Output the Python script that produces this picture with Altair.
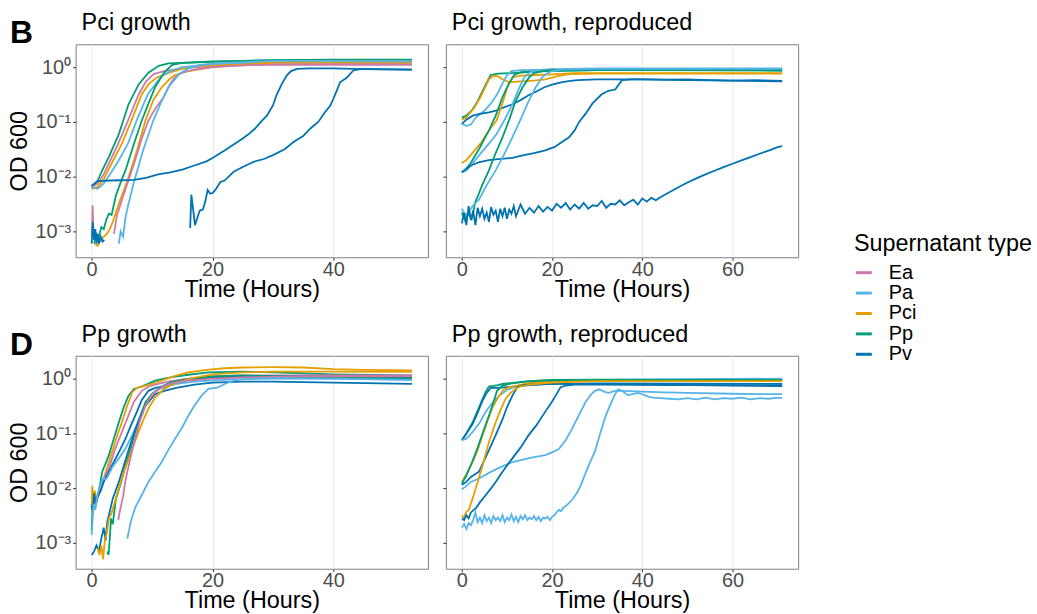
import altair as alt
import pandas as pd

FONT = "Liberation Sans"
TYPES = ["Ea", "Pa", "Pci", "Pp", "Pv"]
COLORS = ["#CC79A7", "#56B4E9", "#E69F00", "#009E73", "#0072B2"]
Y_TICKS = [0.001, 0.01, 0.1, 1]
PANEL_TITLES = ["Pci growth", "Pci growth, reproduced", "Pp growth", "Pp growth, reproduced"]
PANEL_LETTERS = ["B", "", "D", ""]

# ---- Panel 1: Pci growth ----
P1 = [
    ("Pp", [0,1,1.75,2.85,4.5,6.1,7.8,9.4,11.1,12.7,15,20,30,40,53],
           [0.0065,0.0085,0.013,0.023,0.06,0.21,0.49,0.79,1.06,1.17,1.2,1.25,1.35,1.37,1.37]),
    ("Ea", [0,1,2,3,4.4,6,7.8,9,10.25,12,15,20,30,53],
           [0.0065,0.0075,0.011,0.019,0.04,0.105,0.32,0.55,0.75,0.85,0.95,1.05,1.12,1.12]),
    ("Pci", [0,1,2,3,5,6.5,8.3,9.5,10.8,13,16,20,30,53],
            [0.006,0.0065,0.009,0.015,0.04,0.1,0.32,0.5,0.65,0.8,1.0,1.1,1.2,1.2]),
    ("Pa", [0,1,2,3,4.5,6,7.5,9.3,11.6,13.3,15,20,30,53],
           [0.0065,0.006,0.0075,0.011,0.02,0.04,0.11,0.32,0.7,0.87,1.0,1.15,1.25,1.25]),
    ("Pp", [0.4,0.8,1.2,1.6,2,2.4,2.85,3.3,4,5,5.6,7,8.3,9.5,10.5,12,13.3,15,20,30,53],
           [0.0006,0.0009,0.0008,0.0012,0.0011,0.0016,0.0021,0.002,0.0045,0.009,0.013,0.04,0.106,0.23,0.43,0.8,1.1,1.2,1.28,1.33,1.33]),
    ("Pci", [0.5,1,1.5,2,2.5,3,3.5,4,4.5,5,6,7.5,8.9,10.2,11.6,13,13.8,16,20,25,30,53],
            [0.0006,0.00055,0.0007,0.0008,0.0009,0.0011,0.0015,0.0022,0.0032,0.0045,0.009,0.03,0.106,0.25,0.43,0.62,0.72,0.85,1.0,1.1,1.25,1.27]),
    ("Ea", [0.05,0.15,0.25], [0.0009,0.003,0.0015]),
    ("Ea", [3.7,4.2,5,6,7.2,8.3,9.4,10.6,11.9,13,13.8,15,17,20,25,30,53],
           [0.0009,0.002,0.0037,0.008,0.02,0.05,0.106,0.18,0.28,0.5,0.66,0.8,0.9,1.0,1.08,1.12,1.12]),
    ("Pa", [4.5,4.8,5.2,5.6,6.1,7,8.5,10.2,11.5,12.7,14.5,16,18,22,30,53],
           [0.0006,0.001,0.0008,0.0018,0.0032,0.008,0.03,0.106,0.23,0.43,0.75,0.95,1.1,1.2,1.3,1.3]),
    ("Pv", [0,0.5,1,3,5,7,9,11,13,15,17,19,20,22,24,25,26,27,28,29,30,30.6,31.5,32.3,33,34,36,40,45,53],
           [0.0068,0.0075,0.0083,0.0085,0.0086,0.0087,0.0095,0.011,0.012,0.0135,0.016,0.019,0.022,0.03,0.042,
            0.05,0.06,0.075,0.1,0.13,0.2,0.31,0.5,0.71,0.85,0.93,0.95,0.95,0.92,0.9]),
    ("Pv", [16.3,16.5,16.8,17.1,17.5,17.9,18.4,18.8,19.2,19.6,20,20.5,21.3,22,23.5,25,26.8,28.5,30.1,32,
            33.4,35,36.2,37.5,38.6,39.5,40,40.6,41.1,42.2,43.3,44.5,46,53],
           [0.00115,0.0047,0.0025,0.0013,0.0018,0.0024,0.0025,0.0035,0.0057,0.0049,0.005,0.0058,0.008,0.0085,0.0123,
            0.015,0.0187,0.021,0.025,0.032,0.043,0.055,0.076,0.1,0.15,0.2,0.265,0.38,0.53,0.64,0.87,0.92,0.92,0.9]),
    ("Pv", [0,0.2,0.4,0.6,0.8,1.0,1.2,1.5,1.8,2.1],
           [0.0006,0.0015,0.0007,0.0011,0.0006,0.0009,0.0006,0.0008,0.00065,0.0007]),
]

# ---- Panel 2: Pci growth, reproduced ----
P2 = [
    ("Pp", [0,1,2.4,3.5,4.6,5.5,6.4,8,11,15,20,30,50,71],
           [0.12,0.13,0.17,0.24,0.37,0.52,0.72,0.76,0.78,0.82,0.86,0.88,0.88,0.87]),
    ("Pci", [0,1,2.7,4,5,6,7,8,9,10.5,13,16,18.5,21,23.7,30,50,71],
            [0.11,0.12,0.18,0.27,0.4,0.6,0.7,0.68,0.6,0.53,0.55,0.57,0.6,0.68,0.75,0.76,0.76,0.76]),
    ("Pa", [0,1,2,3.1,5,6.5,7.8,9,10.1,11,13,20,30,71],
           [0.092,0.085,0.09,0.12,0.16,0.22,0.32,0.5,0.73,0.85,0.88,0.9,0.92,0.92]),
    ("Pv", [0,1,2.4,4,6,7.5,9,11.2,13,14.6,16.5,18.3,20,22,24,25.7,30,40,50,60,71],
           [0.092,0.11,0.13,0.14,0.15,0.16,0.18,0.21,0.25,0.3,0.36,0.43,0.48,0.53,0.56,0.58,0.6,0.6,0.58,0.57,0.55]),
    ("Pci", [0,1,2,4.1,6,7.7,9,10.1,11.2,13,16,20,25,30,71],
            [0.0178,0.02,0.025,0.04,0.07,0.106,0.22,0.43,0.65,0.7,0.72,0.74,0.78,0.78,0.78]),
    ("Pp", [0,1,2,3.9,6,7.5,9,10.3,11.6,13,16,20,30,71],
           [0.012,0.014,0.018,0.033,0.07,0.13,0.28,0.48,0.72,0.8,0.84,0.86,0.88,0.87]),
    ("Pa", [0,1,2,3.9,6,7.7,9.5,11.2,12.5,13.8,15,17,20,30,71],
           [0.012,0.013,0.016,0.025,0.04,0.06,0.11,0.21,0.38,0.65,0.8,0.88,0.92,0.95,0.95]),
    ("Pv", [0,1,2,3.9,6,8,11.2,14,16,18.3,20.6,22,23.7,25,26,27.4,29,31,32.5,34,34.5,35.5,37.7,40,45,50,55,60,65,71],
           [0.012,0.014,0.016,0.0185,0.02,0.021,0.022,0.025,0.027,0.03,0.035,0.042,0.052,0.07,0.1,
            0.14,0.22,0.32,0.37,0.39,0.45,0.58,0.6,0.6,0.59,0.6,0.58,0.57,0.58,0.56]),
    ("Pp", [0,0.7,1.4,2.2,3,3.5,4.5,6,7.5,9,10.5,11.9,13.4,14.9,16,18,20,30,71],
           [0.0022,0.0016,0.0021,0.0017,0.0035,0.0043,0.007,0.013,0.027,0.052,0.11,0.24,0.42,0.65,0.78,0.85,0.88,0.9,0.9]),
    ("Pa", [0,0.7,1.4,2.5,3.8,5.5,7.5,9.5,11.2,13,14.8,16.3,17.8,19,20,22,30,71],
           [0.0026,0.002,0.0022,0.003,0.0038,0.007,0.013,0.027,0.052,0.11,0.24,0.42,0.65,0.78,0.85,0.9,0.93,0.93]),
    ("Pv", [0,0.5,1,1.5,2,2.5,3,3.5,4,4.5,
            5,5.5,6,6.5,7,7.5,8,8.5,9,9.5,
            10,10.5,11,11.5,12,13,14,15,16,17,
            18,19,20,21,22,23,24,25,26,27,
            28,29,30,31,32,33,34,35,36,37,
            38,39,40,41,42,43,44,46,48,50,
            52,54,56,58,60,62,64,66,68,70,
            71],
           [0.0014,0.0022,0.0013,0.0029,0.0016,0.0024,0.0013,0.0027,0.0019,0.0026,
            0.0017,0.0022,0.0015,0.0028,0.0020,0.0024,0.0015,0.0026,0.0019,0.0027,
            0.0017,0.0025,0.0021,0.0029,0.0019,0.0031,0.0021,0.0027,0.0022,0.0029,
            0.0023,0.0028,0.0024,0.0032,0.0027,0.0033,0.0025,0.0031,0.0026,0.0033,
            0.0026,0.0030,0.0029,0.0036,0.0027,0.0032,0.0031,0.0037,0.0030,0.0034,
            0.0038,0.0031,0.0040,0.0035,0.0041,0.0037,0.0042,0.0052,0.0064,0.0078,
            0.0093,0.011,0.0128,0.0149,0.0172,0.0198,0.0228,0.0262,0.030,0.0345,
            0.036]),
]

# ---- Panel 3: Pp growth ----
P3 = [
    ("Pp", [0,0.15,0.3,0.6,1,1.4,1.75,2.3,2.85,3.5,4.5,5.3,6.1,7,8.3,9.5,10.5,12,13.3,16,19.3,25,30,40,53],
           [0.0017,0.0045,0.006,0.0055,0.007,0.012,0.02,0.028,0.04,0.07,0.16,0.3,0.49,0.65,0.72,
            0.82,0.92,1.0,1.07,1.18,1.3,1.35,1.3,1.2,1.15]),
    ("Pci", [0,0.1,0.3,0.5,0.8,1.2,1.6,2,2.85,3.5,4.2,5,5.8,6.7,7.5,8.5,10,11.1,12.5,13.8,16,19,22,25,30,35,40,45,53],
            [0.004,0.011,0.005,0.009,0.006,0.0075,0.01,0.015,0.03,0.05,0.09,0.16,0.3,0.56,0.68,
             0.72,0.8,0.88,1.0,1.12,1.3,1.45,1.55,1.6,1.62,1.6,1.5,1.45,1.42]),
    ("Ea", [0.2,0.6,1,1.5,2,2.85,3.8,5,6,7,8.3,9.5,11,13,16,20,25,30,40,53],
           [0.005,0.007,0.007,0.01,0.015,0.023,0.048,0.106,0.2,0.38,0.6,0.72,0.8,0.9,1.0,1.1,1.15,1.15,1.15,1.15]),
    ("Pv", [0,0.2,0.4,0.7,1,1.5,2,2.85,3.8,4.7,5.6,6.5,7.5,8.3,9.4,10.5,12,13.8,16,20,25,30,40,53],
           [0.005,0.0035,0.008,0.005,0.007,0.009,0.013,0.02,0.032,0.05,0.08,0.14,0.25,0.41,0.6,
            0.68,0.72,0.8,0.95,1.05,1.1,1.1,1.08,1.05]),
    ("Pa", [0,0.3,0.6,1,1.75,2.5,3.5,4.5,5.6,7,8.3,9.9,11,12.5,14,17,20,25,30,40,53],
           [0.0014,0.005,0.004,0.008,0.0145,0.015,0.025,0.035,0.053,0.11,0.24,0.52,0.64,0.72,0.8,
            0.88,0.93,0.98,1.0,1.0,0.95]),
    ("Pp", [2.6,2.8,3.0,3.2,3.5,4,4.8,5.6,6.4,7.2,8,8.9,10,11.6,13,15,18,20,25,30,40,53],
           [0.0007,0.0006,0.0012,0.0028,0.0022,0.0063,0.012,0.026,0.05,0.106,0.2,0.37,0.52,0.72,0.85,
            0.95,1.05,1.1,1.15,1.1,1.05,1.0]),
    ("Pv", [0,0.4,0.8,1.2,1.6,2,2.3,2.6,2.85,3.5,4.5,5.5,6.7,7.8,8.9,10.5,12,14,17,20,25,30,40,53],
           [0.0006,0.0007,0.0009,0.0007,0.0012,0.0019,0.0011,0.0025,0.0032,0.0065,0.013,0.03,0.08,0.17,0.32,
            0.52,0.6,0.68,0.78,0.85,0.88,0.88,0.85,0.8]),
    ("Pci", [1.0,1.3,1.6,1.9,2.2,2.5,2.85,3.3,4,4.5,5.5,6.5,7.5,8.5,9.5,10.5,12,14,17,20,25,30,40,53],
            [0.0008,0.0006,0.0009,0.0005,0.0012,0.0015,0.0028,0.0035,0.0065,0.01,0.022,0.045,0.09,0.17,0.3,
             0.45,0.65,0.85,1.05,1.2,1.3,1.35,1.35,1.33]),
    ("Ea", [4.4,4.6,4.9,5.2,5.6,6.4,7.2,8,8.9,10,11.6,13,15,20,25,30,40,53],
           [0.0026,0.0035,0.005,0.007,0.014,0.035,0.08,0.17,0.32,0.52,0.7,0.8,0.9,1.0,1.05,1.08,1.1,1.1]),
    ("Pa", [5.9,6.5,7.2,8.3,9.4,10.5,11.6,12.7,13.8,15,16,17,18.2,19.3,20.9,22,23.6,26,30,40,53],
           [0.0012,0.0025,0.0044,0.0075,0.013,0.02,0.03,0.05,0.08,0.13,0.21,0.32,0.49,0.65,0.69,
            0.8,0.93,1.0,1.02,1.0,0.95]),
]

# ---- Panel 4: Pp growth, reproduced ----
P4 = [
    ("Pp", [0,1,2.4,3.5,4.6,5.3,6,7,8,9,11,15,20,30,71],
           [0.075,0.1,0.16,0.26,0.43,0.58,0.72,0.74,0.76,0.8,0.83,0.9,0.95,0.96,0.95]),
    ("Pv", [0,1,2.4,3.5,4.6,5.5,6.4,8,10,12,15,20,30,50,71],
           [0.075,0.1,0.15,0.24,0.4,0.55,0.68,0.68,0.7,0.72,0.76,0.8,0.8,0.76,0.73]),
    ("Pa", [0,1,2.4,4,5.3,6.5,8.2,10,12,15,20,30,50,71],
           [0.075,0.08,0.106,0.16,0.25,0.34,0.48,0.62,0.72,0.82,0.9,0.95,0.98,1.0]),
    ("Pci", [0,1,2.4,3.5,4.6,5.7,6.8,8.2,9.2,10.5,12,14,16,20,30,71],
            [0.013,0.018,0.03,0.05,0.093,0.17,0.3,0.48,0.62,0.7,0.74,0.8,0.85,0.9,0.93,0.93]),
    ("Pp", [0,1,2.4,3.5,4.6,5.7,6.8,7.8,9,11,14,18,25,71],
           [0.012,0.017,0.032,0.055,0.1,0.18,0.33,0.6,0.75,0.82,0.88,0.92,0.95,0.95]),
    ("Pv", [0,1,2,3.8,5.5,7.5,9,10,11.2,12.3,13.5,15,20,30,71],
           [0.0115,0.013,0.016,0.02,0.04,0.093,0.18,0.3,0.49,0.7,0.76,0.78,0.8,0.82,0.8]),
    ("Pa", [0,1,2,3.8,6,8,11.2,14,16,18.5,20,21.5,23,24.4,26,27.4,28.5,29.5,30.5,31.5,32.5,34,36,40,45,50,60,71],
           [0.0095,0.011,0.013,0.015,0.019,0.023,0.03,0.034,0.037,0.04,0.045,0.052,0.075,0.12,0.22,
            0.37,0.5,0.6,0.64,0.58,0.55,0.6,0.6,0.58,0.56,0.55,0.53,0.52]),
    ("Pci", [0,0.5,0.9,1.5,2.4,3.5,4.6,6,7.5,8.5,9.7,10.8,11.9,13,15,20,30,71],
            [0.0032,0.0028,0.0036,0.004,0.0065,0.013,0.026,0.07,0.16,0.26,0.43,0.55,0.65,0.72,0.78,0.85,0.9,0.9]),
    ("Pv", [0,0.5,1,1.5,2,3.1,4,5.3,6.5,7.5,9,11.2,13,14.8,16.5,18.5,19.8,20.8,21.9,23,25,30,40,71],
           [0.0028,0.0026,0.0032,0.0028,0.0036,0.0043,0.0055,0.0075,0.01,0.013,0.02,0.035,0.055,0.093,0.14,
            0.25,0.36,0.49,0.7,0.75,0.78,0.78,0.77,0.75]),
    ("Pa", [0,0.5,1,1.5,2,2.5,3,3.5,4,4.5,
            5,5.5,6,6.5,7,7.5,8,8.5,9,9.5,
            10,10.5,11,11.5,12,12.5,13,13.5,14,14.5,
            15,15.5,16,16.5,17,17.5,18,18.5,19,19.5,
            20,20.5,21,21.5,22,22.5,23.4,24.5,25.7,26.5,
            27.2,28.3,29.5,30.5,31.7,32.8,33.8,34.6,35.5,36.8,
            37.8,39,40,41,42.3,44,46,48,50,52,
            54,56,58,60,62,64,66,68,70,71],
           [0.0019,0.0022,0.0018,0.0023,0.0021,0.0026,0.0036,0.0024,0.0029,0.0023,
            0.0032,0.0025,0.0029,0.0023,0.0031,0.0026,0.0029,0.0025,0.0032,0.0024,
            0.0029,0.0026,0.0033,0.0025,0.0030,0.0024,0.0031,0.0027,0.0032,0.0026,
            0.0029,0.0027,0.0031,0.0026,0.0030,0.0025,0.0029,0.0028,0.0030,0.0026,
            0.0030,0.0032,0.0036,0.0040,0.0038,0.0044,0.0050,0.0062,0.0087,0.012,
            0.017,0.028,0.047,0.09,0.19,0.32,0.49,0.64,0.6,0.5,
            0.52,0.55,0.52,0.48,0.45,0.44,0.43,0.42,0.44,0.42,
            0.45,0.42,0.44,0.43,0.45,0.42,0.44,0.43,0.45,0.44]),
]

rows = []
for key, curves in (("p1", P1), ("p2", P2), ("p3", P3), ("p4", P4)):
    for i, (typ, ts, ods) in enumerate(curves):
        for t, o in zip(ts, ods):
            rows.append({"panel": key, "id": f"{key}_{i}", "type": typ, "t": t, "od": o})
df = pd.DataFrame(rows)

Y_DOMAIN = [3.37e-4, 2.62]
LABEL_EXPR = ("datum.value > 0.5 ? '10⁰' : datum.value > 0.05 ? '10⁻¹' : "
              "datum.value > 0.005 ? '10⁻²' : '10⁻³'")

legend = alt.Legend(
    orient="none", legendX=782, legendY=189, title="Supernatant type",
    titleFontSize=23.5, titleFontWeight="normal", titleColor="black", titleFont=FONT,
    labelFontSize=20, labelColor="black", labelFont=FONT, symbolType="stroke",
    symbolStrokeWidth=3, symbolSize=256, labelOffset=15, rowPadding=0.5,
    titlePadding=7, padding=0,
)


def make_panel(key, idx, xmax, xticks, show_y):
    data = df[df.panel == key]
    xdom = [-0.05 * xmax, 1.05 * xmax]
    x = alt.X("t:Q", scale=alt.Scale(domain=xdom, nice=False, zero=False),
              axis=alt.Axis(values=xticks, title="Time (Hours)", grid=True, gridColor="#EBEBEB",
                            domain=False, tickSize=3, tickColor="#333333", labelFontSize=20,
                            labelColor="#4D4D4D", labelPadding=15, labelBaseline="alphabetic",
                            labelFont=FONT, titleFontSize=23.5, titleFontWeight="normal",
                            titleColor="black", titleFont=FONT, titleY=39,
                            titleBaseline="alphabetic"))
    if show_y:
        yaxis = alt.Axis(values=Y_TICKS, labelExpr=LABEL_EXPR, title="OD 600", grid=False,
                         domain=False, tickSize=3, tickColor="#333333", labelFontSize=20,
                         labelColor="#4D4D4D", labelPadding=2, labelFont=FONT,
                         titleFontSize=23.5, titleFontWeight="normal", titleColor="black",
                         titleFont=FONT, titleX=-56, titleY=107, titleAngle=270,
                         titleBaseline="middle", titleAlign="center")
    else:
        yaxis = alt.Axis(values=Y_TICKS, labels=False, title=None, grid=False, domain=False,
                         tickSize=3, tickColor="#333333")
    y = alt.Y("od:Q", scale=alt.Scale(type="log", domain=Y_DOMAIN, nice=False), axis=yaxis)
    lines = alt.Chart(data).mark_line(strokeWidth=1.8).encode(
        x=x, y=y,
        color=alt.Color("type:N", scale=alt.Scale(domain=TYPES, range=COLORS), legend=legend),
        detail="id:N",
    )
    title_txt = alt.Chart(pd.DataFrame({"label": [PANEL_TITLES[idx]]})).mark_text(
        align="left", baseline="alphabetic", fontSize=23.5, font=FONT, color="black"
    ).encode(x=alt.value(6), y=alt.value(-14), text="label:N")
    layers = [lines, title_txt]
    if PANEL_LETTERS[idx]:
        letter = alt.Chart(pd.DataFrame({"label": [PANEL_LETTERS[idx]]})).mark_text(
            align="left", baseline="alphabetic", fontSize=32, fontWeight="bold", font=FONT, color="black"
        ).encode(x=alt.value(-66), y=alt.value(-1), text="label:N")
        layers.append(letter)
    return alt.layer(*layers).properties(width=354, height=214)


p1 = make_panel("p1", 0, 53, [0, 20, 40], True)
p2 = make_panel("p2", 1, 71, [0, 20, 40, 60], False)
p3 = make_panel("p3", 2, 53, [0, 20, 40], True)
p4 = make_panel("p4", 3, 71, [0, 20, 40, 60], False)

chart = alt.vconcat(
    alt.hconcat(p1, p2, spacing=13),
    alt.hconcat(p3, p4, spacing=13),
    spacing=21,
).properties(
    padding={"left": 7, "top": 9, "right": 5, "bottom": 5}
).configure(font=FONT).configure_view(stroke="#7F7F7F", strokeWidth=1)

chart.save("out.html", embed_options={"renderer": "svg", "actions": False})
